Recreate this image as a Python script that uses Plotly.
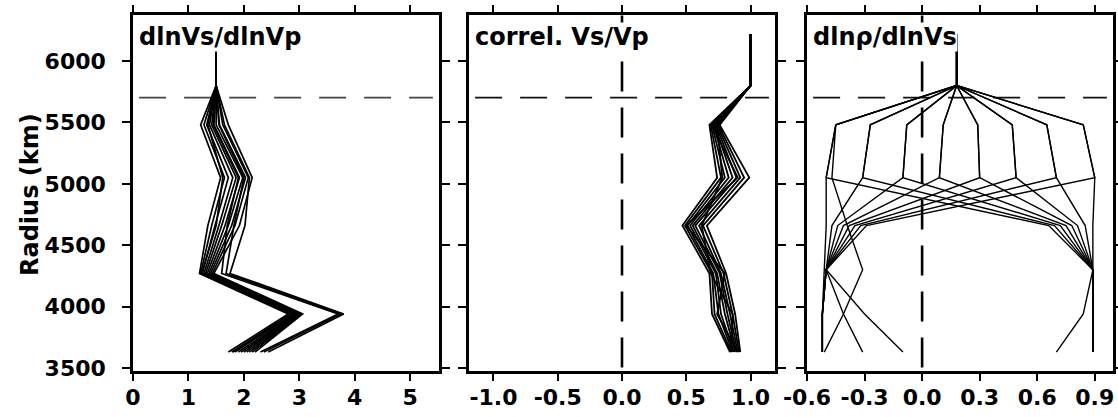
import plotly.graph_objects as go

# ---------------- data ----------------
RADIUS = [6220, 5800, 5480, 5050, 4660, 4270, 3940, 3630]
RADIUS_RHO = [6220, 5800, 5480, 5050, 4660, 4300, 3940, 3630]
DISCONTINUITY_KM = 5701

# panel 1: dlnVs/dlnVp ensemble
VS_VP = [
    [1.5, 1.5, 1.22, 1.58, 1.35, 1.20, 2.80, 1.72],
    [1.5, 1.5, 1.28, 1.65, 1.42, 1.22, 2.84, 1.78],
    [1.5, 1.5, 1.33, 1.72, 1.48, 1.25, 2.88, 1.84],
    [1.5, 1.5, 1.38, 1.80, 1.55, 1.28, 2.92, 1.90],
    [1.5, 1.5, 1.42, 1.86, 1.60, 1.31, 2.95, 1.95],
    [1.5, 1.5, 1.46, 1.92, 1.66, 1.34, 2.97, 2.00],
    [1.5, 1.5, 1.50, 1.98, 1.72, 1.37, 3.00, 2.05],
    [1.5, 1.5, 1.56, 2.03, 1.78, 1.40, 3.02, 2.10],
    [1.5, 1.5, 1.62, 2.08, 1.84, 1.43, 3.04, 2.15],
    [1.5, 1.5, 1.72, 2.15, 1.92, 1.46, 3.06, 2.20],
    [1.5, 1.5, 1.35, 1.62, 1.50, 1.24, 2.90, 1.80],
    [1.5, 1.5, 1.45, 1.90, 1.70, 1.60, 3.70, 2.30],
    [1.5, 1.5, 1.55, 2.00, 1.82, 1.68, 3.75, 2.36],
    [1.5, 1.5, 1.65, 2.10, 2.02, 1.75, 3.80, 2.44],
]

# panel 2: correlation Vs/Vp ensemble
CORREL = [
    [1.0, 1.0, 0.68, 0.74, 0.47, 0.68, 0.70, 0.84],
    [1.0, 1.0, 0.69, 0.77, 0.49, 0.70, 0.72, 0.85],
    [1.0, 1.0, 0.70, 0.80, 0.51, 0.71, 0.75, 0.86],
    [1.0, 1.0, 0.71, 0.83, 0.53, 0.73, 0.77, 0.87],
    [1.0, 1.0, 0.72, 0.86, 0.55, 0.74, 0.80, 0.88],
    [1.0, 1.0, 0.73, 0.89, 0.57, 0.76, 0.82, 0.89],
    [1.0, 1.0, 0.74, 0.92, 0.60, 0.77, 0.84, 0.90],
    [1.0, 1.0, 0.75, 0.95, 0.63, 0.79, 0.86, 0.91],
    [1.0, 1.0, 0.76, 0.99, 0.66, 0.81, 0.88, 0.92],
    [1.0, 1.0, 0.70, 0.90, 0.50, 0.80, 0.74, 0.90],
    [1.0, 1.0, 0.74, 0.78, 0.62, 0.69, 0.86, 0.85],
]

# panel 3: dln(rho)/dlnVs ensemble
RHO_VS = [
    # converging to the left
    [0.18, 0.18, -0.45, -0.50, -0.50, -0.51, -0.52, -0.52],
    [0.18, 0.18, -0.27, -0.31, -0.47, -0.50, -0.52, -0.52],
    [0.18, 0.18, -0.08, -0.10, -0.44, -0.50, -0.41, -0.31],
    [0.18, 0.18, 0.11, 0.09, -0.41, -0.50, -0.52, -0.52],
    [0.18, 0.18, 0.29, 0.30, -0.38, -0.50, -0.52, -0.52],
    [0.18, 0.18, 0.47, 0.49, -0.35, -0.50, -0.30, -0.10],
    [0.18, 0.18, 0.65, 0.70, -0.32, -0.50, -0.52, -0.52],
    [0.18, 0.18, 0.84, 0.90, -0.29, -0.50, -0.52, -0.52],
    [0.18, 0.18, -0.45, -0.47, -0.39, -0.31, -0.41, -0.51],
    # converging to the right
    [0.18, 0.18, -0.45, -0.50, 0.66, 0.89, 0.89, 0.89],
    [0.18, 0.18, -0.27, -0.31, 0.69, 0.89, 0.89, 0.89],
    [0.18, 0.18, -0.08, -0.10, 0.72, 0.89, 0.89, 0.89],
    [0.18, 0.18, 0.11, 0.09, 0.75, 0.89, 0.84, 0.70],
    [0.18, 0.18, 0.29, 0.30, 0.78, 0.89, 0.89, 0.89],
    [0.18, 0.18, 0.47, 0.49, 0.81, 0.89, 0.89, 0.89],
    [0.18, 0.18, 0.65, 0.70, 0.85, 0.89, 0.89, 0.89],
    [0.18, 0.18, 0.84, 0.90, 0.89, 0.89, 0.89, 0.89],
]

TITLES = ["dlnVs/dlnVp", "correl. Vs/Vp", "dlnρ/dlnVs"]
Y_TICKS = [3500, 4000, 4500, 5000, 5500, 6000]
X1_TICKS = [0, 1, 2, 3, 4, 5]
X1_LABELS = ["0", "1", "2", "3", "4", "5"]
X2_TICKS = [-1.0, -0.5, 0.0, 0.5, 1.0]
X2_LABELS = ["-1.0", "-0.5", "0.0", "0.5", "1.0"]
X3_TICKS = [-0.6, -0.3, 0.0, 0.3, 0.6, 0.9]
X3_LABELS = ["-0.6", "-0.3", "0.0", "0.3", "0.6", "0.9"]
Y_LABEL = "Radius (km)"

# ---------------- figure ----------------
W, H = 1118, 417
FONT = dict(family="DejaVu Sans", size=22, color="black", weight="bold")
TFONT = dict(family="DejaVu Sans", size=24, color="black", weight="bold")
LFONT = dict(family="DejaVu Sans", size=24, color="black", weight="bold")

fig = go.Figure()

def add_set(curves, radius, xa, ya, width):
    for c in curves:
        fig.add_trace(go.Scatter(x=c, y=radius, mode="lines",
                                 line=dict(color="black", width=width),
                                 xaxis=xa, yaxis=ya, showlegend=False,
                                 hoverinfo="skip"))

add_set(VS_VP, RADIUS, "x", "y", 1.7)
add_set(CORREL, RADIUS, "x2", "y2", 1.8)
add_set(RHO_VS, RADIUS_RHO, "x3", "y3", 1.4)

px_x = [(133, 439), (469, 775), (807, 1113)]
ydom = [(H - 370.5) / H, (H - 15.4) / H]
xranges = [[0, 5.52], [-1.19, 1.19], [-0.6, 0.995]]
xt = [(X1_TICKS, X1_LABELS), (X2_TICKS, X2_LABELS), (X3_TICKS, X3_LABELS)]

common = dict(showline=True, linewidth=2.5, linecolor="black", mirror="ticks",
              ticks="outside", ticklen=8, tickwidth=2, tickcolor="black",
              showgrid=False, zeroline=False, tickfont=FONT, automargin=False)

for i in range(3):
    sx = "" if i == 0 else str(i + 1)
    fig.update_layout(**{
        f"xaxis{sx}": dict(domain=[px_x[i][0] / W, px_x[i][1] / W],
                           range=xranges[i], anchor=f"y{sx}",
                           tickmode="array", tickvals=xt[i][0], ticktext=xt[i][1],
                           ticklabelstandoff=-3, **common),
        f"yaxis{sx}": dict(domain=ydom, range=[3480, 6371], anchor=f"x{sx}",
                           tickmode="array", tickvals=Y_TICKS,
                           showticklabels=(i == 0), ticklabelstandoff=12,
                           **common),
    })
    # 670 km discontinuity
    fig.add_shape(type="line", xref=f"x{sx} domain", yref=f"y{sx}",
                  x0=0.02, x1=0.98, y0=DISCONTINUITY_KM, y1=DISCONTINUITY_KM,
                  line=dict(color="#444" if i == 0 else "#111", width=1.8,
                            dash="27px,18px"),
                  layer="below")
    if i > 0:
        fig.add_shape(type="line", xref=f"x{sx}", yref=f"y{sx} domain",
                      x0=0, x1=0, y0=1.0, y1=0.0,
                      line=dict(color="black", width=2.6, dash="30px,16px"),
                      layer="below")
    fig.add_annotation(text=TITLES[i], xref="paper", yref="paper",
                       x=(px_x[i][0] + 5) / W, y=(H - 37) / H,
                       xanchor="left", yanchor="middle", showarrow=False,
                       font=TFONT, bgcolor="white", borderpad=0)

fig.add_annotation(text=Y_LABEL, xref="paper", yref="paper",
                   x=30 / W, y=(H - 195) / H, textangle=-90,
                   xanchor="center", yanchor="middle", showarrow=False,
                   font=LFONT)

fig.update_layout(template="none", width=W, height=H,
                  margin=dict(l=0, r=0, t=0, b=0, pad=0),
                  paper_bgcolor="white", plot_bgcolor="white",
                  autosize=False)

fig.write_html("out.html", config={"displayModeBar": False},
               post_script="document.body.style.margin='0px';"
                           "document.body.style.overflow='hidden';")
